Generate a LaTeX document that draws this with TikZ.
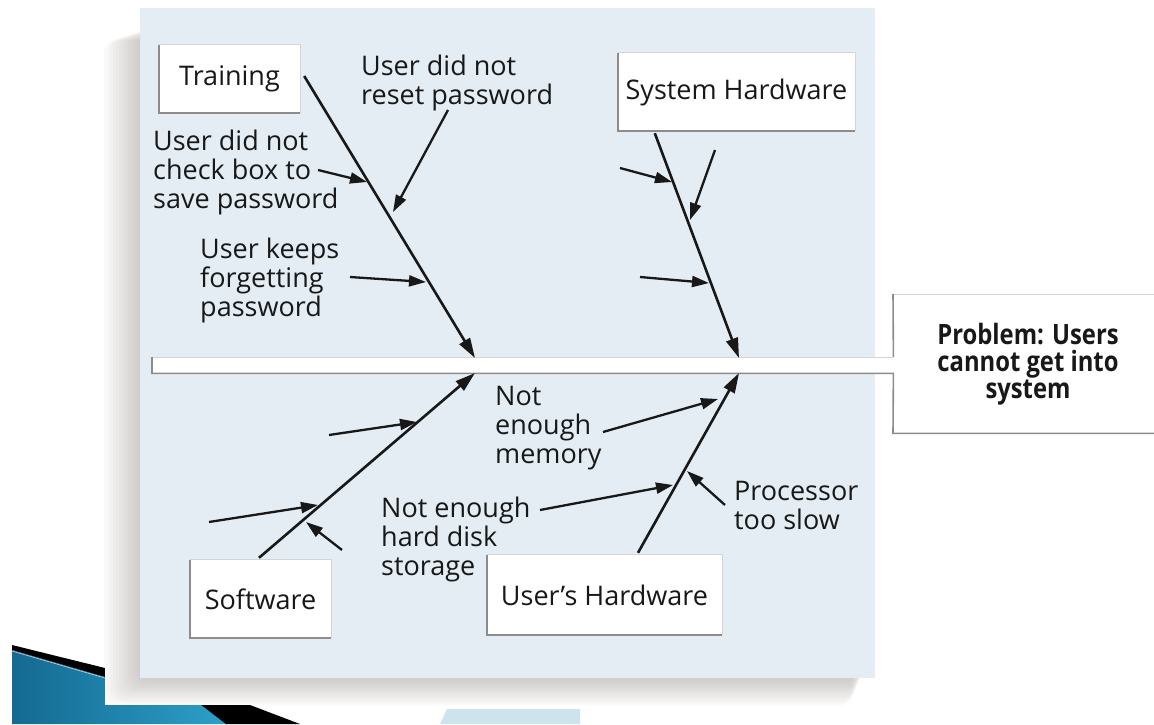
\documentclass[tikz,border=0pt]{standalone}
\usepackage{fontspec}
\setmainfont{Open Sans}
\newfontfamily\probfont[FakeStretch=0.85]{Open Sans}
\usetikzlibrary{arrows.meta,calc}

\definecolor{panelblue}{RGB}{227,237,243}
\definecolor{edgedark}{RGB}{140,140,140}
\definecolor{edgelight}{RGB}{212,212,212}
\definecolor{ink}{RGB}{24,24,24}
\definecolor{tealdark}{RGB}{20,105,145}
\definecolor{teallight}{RGB}{45,160,200}
\definecolor{paleblue}{RGB}{205,228,238}
\definecolor{shadowgray}{RGB}{110,100,95}

\newcommand\insetedges[1]{%
  \draw[lightedge] (#1.south east) -- (#1.north east) -- (#1.north west);
  \draw[darkedge] (#1.north west) -- (#1.south west) -- (#1.south east);}

% multi-line labels are placed by the baseline of their last line
\tikzset{
  lbl/.style={font=\fontsize{27}{29}\selectfont, text=ink, inner sep=0pt,
    align=left, anchor=base west},
  catbox/.style={fill=white, inner sep=0pt, font=\fontsize{27}{29}\selectfont,
    text=ink},
  bone/.style={draw=ink, line width=2.6pt, -{Triangle[length=20pt,width=12pt]}},
  twig/.style={draw=ink, line width=2.3pt, -{Triangle[length=17pt,width=11pt]}},
  darkedge/.style={draw=edgedark, line width=1.6pt},
  lightedge/.style={draw=edgelight, line width=1pt},
}

\begin{document}
\begin{tikzpicture}[x=1pt,y=-1pt]
\useasboundingbox (0,0) rectangle (1154,724);
\fill[white] (0,0) rectangle (1154,724);

% corner ornament of the slide
\shade[left color=tealdark, right color=teallight]
  (12,650) -- (105,677) -- (105,705) -- (205,705) -- (228,724) -- (12,724) -- cycle;
\fill[black] (12,645) -- (105,668) -- (105,677) -- (12,650) -- cycle;
\draw[white, opacity=0.6, line width=0.8pt] (12,651) -- (105,678);
\fill[black] (200,704) -- (250,705) -- (300,724) -- (226,724) -- cycle;
\fill[paleblue] (447,709) -- (580,709) -- (580,724) -- (440,724) -- cycle;

% soft shadow under the panel
\fill[white] (105,20) rectangle (900,705);
\foreach \i in {1,...,12}
  \fill[shadowgray, opacity=0.026, rounded corners=12pt]
    (140-3*\i, 28+\i) rectangle (864-\i, 679+2.2*\i);

% panel
\fill[panelblue] (140,8) rectangle (875,678);

% spine and problem box
\node[fill=white, inner sep=0pt, minimum width=261pt, minimum height=139pt,
  anchor=north west] (probbox) at (893,294) {};
\node[fill=white, inner sep=0pt, minimum width=741pt, minimum height=16pt,
  anchor=north west] (spine) at (152,357) {};
\draw[lightedge] (spine.north west) -- (spine.north east);
\draw[lightedge] (probbox.north west) -- (probbox.north east);
\draw[darkedge] (probbox.north west) -- (spine.north east);
\draw[darkedge] (spine.north west) -- (spine.south west) -- (spine.south east)
  -- (probbox.south west) -- (probbox.south east);
\node[font=\probfont\bfseries\fontsize{28}{27}\selectfont, text=ink,
  align=center, anchor=base, inner sep=0pt] (prob) at (1028,398)
  {Problem: Users\\cannot get into\\system};

% category boxes
\node[catbox, minimum width=141pt, minimum height=68pt] (train) at (229.5,79) {Training};
\node[catbox, minimum width=237pt, minimum height=78pt] (syshw) at (736.5,92) {System Hardware};
\node[catbox, minimum width=141pt, minimum height=78pt] (soft) at (260.5,599) {Software};
\node[catbox, minimum width=235pt, minimum height=80pt] (usershw) at (604.5,595) {User's Hardware};
\insetedges{train}
\insetedges{syshw}
\insetedges{soft}
\insetedges{usershw}

% joints on the spine
\coordinate (jA) at (475,358);
\coordinate (jB) at (739,358);
\coordinate (jC) at (475,373);
\coordinate (jD) at (739,373);

% main bones
\draw[bone] ($(train.east)+(4,-3)$) -- (jA);
\draw[bone] ($(syshw.south west)+(37,2)$) -- (jB);
\draw[bone] ($(soft.north)+(-1.5,-2)$) -- (jC);
\draw[bone] ($(usershw.north)+(33.5,-2)$) -- (jD);

% cause labels
\node[lbl] (c1) at (153,208) {User did not\\check box to\\save password};
\node[lbl] (c2) at (361,104) {User did not\\reset password};
\node[lbl] (c3) at (200,316) {User keeps\\forgetting\\password};
\node[lbl] (c4) at (495,463) {Not\\enough\\memory};
\node[lbl] (c5) at (381,575) {Not enough\\hard disk\\storage};
\node[lbl] (c6) at (734,529) {Processor\\too slow};

% twig end points
\coordinate (t1a) at (318,170); \coordinate (t1b) at (367,182);
\coordinate (t2a) at (448,110); \coordinate (t2b) at (393,212);
\coordinate (t3a) at (350,277); \coordinate (t3b) at (426,282);
\coordinate (s1a) at (620,168); \coordinate (s1b) at (672,182);
\coordinate (s2a) at (715,150); \coordinate (s2b) at (690,220);
\coordinate (s3a) at (640,277); \coordinate (s3b) at (709,283);
\coordinate (w1a) at (329,435); \coordinate (w1b) at (417,422);
\coordinate (w2a) at (209,522); \coordinate (w2b) at (318,505);
\coordinate (w3a) at (342,550); \coordinate (w3b) at (306,522);
\coordinate (u1a) at (603,432); \coordinate (u1b) at (718,399);
\coordinate (u2a) at (540,510); \coordinate (u2b) at (673,485);
\coordinate (u3a) at (725,505); \coordinate (u3b) at (687,471);

% twigs
\draw[twig] (t1a) -- (t1b);
\draw[twig] (t2a) -- (t2b);
\draw[twig] (t3a) -- (t3b);
\draw[twig] (s1a) -- (s1b);
\draw[twig] (s2a) -- (s2b);
\draw[twig] (s3a) -- (s3b);
\draw[twig] (w1a) -- (w1b);
\draw[twig] (w2a) -- (w2b);
\draw[twig] (w3a) -- (w3b);
\draw[twig] (u1a) -- (u1b);
\draw[twig] (u2a) -- (u2b);
\draw[twig] (u3a) -- (u3b);
\end{tikzpicture}
\end{document}
